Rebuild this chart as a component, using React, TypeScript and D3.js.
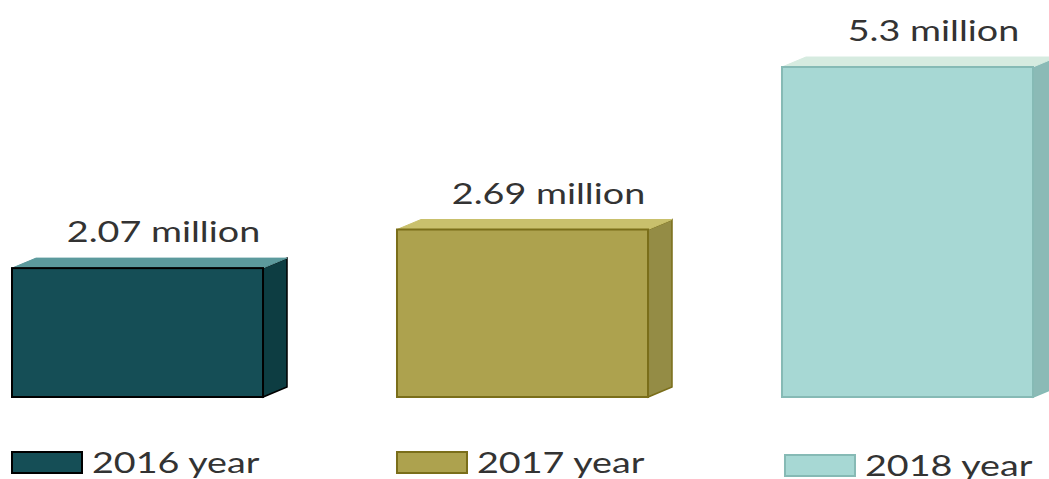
import React, { useRef, useEffect } from 'react';
import * as d3 from 'd3';

const years = ['2016 year', '2017 year', '2018 year'];
const values = [2.07, 2.69, 5.3];
const valueLabels = ['2.07 million', '2.69 million', '5.3 million'];

const frontColors = ['#154e56', '#ada24e', '#a7d8d4'];
const sideColors = ['#0d3d42', '#948c45', '#8bbab6'];
const topColors = ['#5c9a9d', '#c9c06c', '#d6ebe0'];
const strokeColors = ['#000000', '#7a6e1a', '#86bab5'];

const App = () => {
  const ref = useRef(null);

  useEffect(() => {
    const width = 1049;
    const height = 479;
    const depthX = 24;
    const depthY = 10;
    const stretch = 1.3; // the source image is stretched horizontally

    const svg = d3.select(ref.current);
    svg.selectAll('*').remove();
    svg.attr('width', width).attr('height', height);

    const x = d3.scaleBand().domain(years).range([12, 1033]).paddingInner(0.348);
    const y = d3.scaleLinear().domain([0, 5.3]).range([397, 67]);
    const bw = x.bandwidth();

    const bars = svg.selectAll('g.bar')
      .data(years)
      .enter()
      .append('g')
      .attr('class', 'bar');

    // side face
    bars.append('path')
      .attr('d', (d, i) => {
        const x1 = x(d) + bw;
        const t = y(values[i]);
        const b = y(0);
        return `M${x1},${t} L${x1 + depthX},${t - depthY} L${x1 + depthX},${b - depthY} L${x1},${b} Z`;
      })
      .attr('fill', (d, i) => sideColors[i])
      .attr('stroke', (d, i) => strokeColors[i])
      .attr('stroke-width', 1.5);

    // top face
    bars.append('path')
      .attr('d', (d, i) => {
        const x0 = x(d);
        const t = y(values[i]);
        return `M${x0},${t} L${x0 + depthX},${t - depthY} L${x0 + bw + depthX},${t - depthY} L${x0 + bw},${t} Z`;
      })
      .attr('fill', (d, i) => topColors[i])
      .attr('stroke', (d, i) => topColors[i])
      .attr('stroke-width', 1);

    // front face
    bars.append('rect')
      .attr('x', d => x(d))
      .attr('y', (d, i) => y(values[i]))
      .attr('width', bw)
      .attr('height', (d, i) => y(0) - y(values[i]))
      .attr('fill', (d, i) => frontColors[i])
      .attr('stroke', (d, i) => strokeColors[i])
      .attr('stroke-width', 2);

    // value labels
    bars.append('text')
      .attr('transform', (d, i) =>
        `translate(${x(d) + bw / 2 + 26},${y(values[i]) - depthY - 16}) scale(${stretch},1)`)
      .attr('text-anchor', 'middle')
      .style('font-family', 'Lato, sans-serif')
      .style('font-size', '29px')
      .attr('fill', '#333')
      .text((d, i) => valueLabels[i]);

    // legend
    const legend = svg.selectAll('g.legend')
      .data(years)
      .enter()
      .append('g')
      .attr('class', 'legend')
      .attr('transform', (d, i) => `translate(${x(d) + (i === 2 ? 3 : 0)},${i === 2 ? 455 : 452})`);

    legend.append('rect')
      .attr('width', 70)
      .attr('height', 21)
      .attr('fill', (d, i) => frontColors[i])
      .attr('stroke', (d, i) => strokeColors[i])
      .attr('stroke-width', 2);

    legend.append('text')
      .attr('transform', `translate(80,21) scale(${stretch},1)`)
      .style('font-family', 'Lato, sans-serif')
      .style('font-size', '29px')
      .attr('fill', '#333')
      .text(d => d);
  }, []);

  return (
    <svg ref={ref} style={{ position: 'absolute', left: 0, top: 0 }} />
  );
};

export default App;
